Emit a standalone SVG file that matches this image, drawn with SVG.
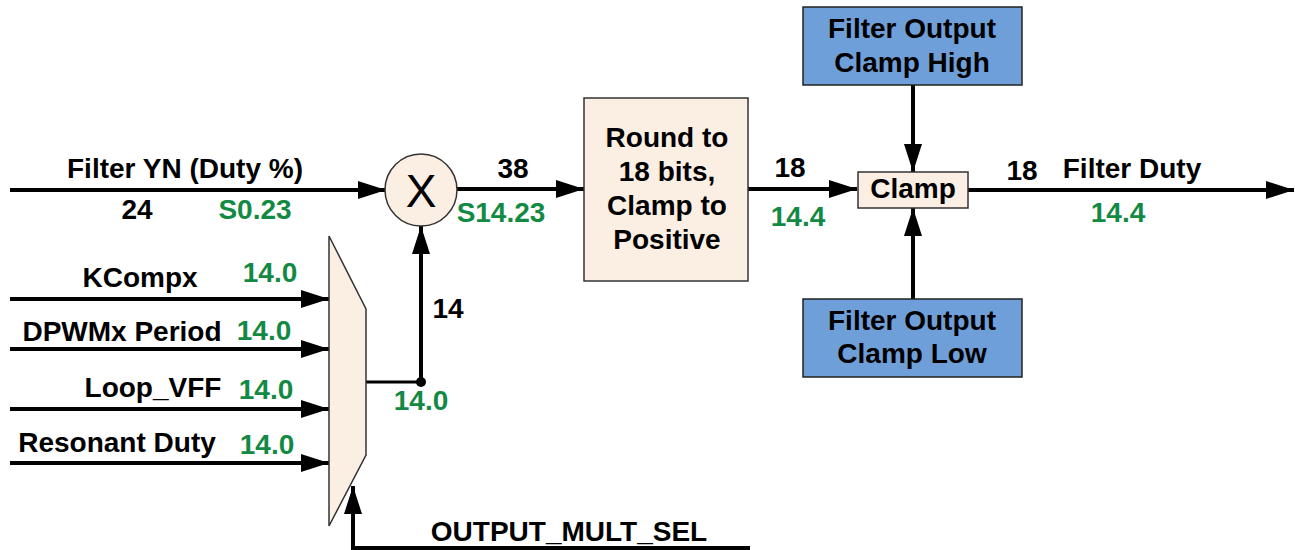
<svg xmlns="http://www.w3.org/2000/svg" width="1295" height="550" viewBox="0 0 1295 550">
<style>
text{font-family:"Liberation Sans",Arial,sans-serif;font-weight:bold;font-size:28px;fill:#000;text-anchor:middle}
text.g{fill:#138a43}
.ln{stroke:#000;stroke-width:4;fill:none}
.peach{fill:#fbeee2;stroke:#333;stroke-width:1.5}
.blue{fill:#6f9fd8;stroke:#222;stroke-width:1.5}
</style>
<defs>
<marker id="ah" markerUnits="userSpaceOnUse" markerWidth="30" markerHeight="20" refX="28" refY="9" orient="auto">
<path d="M0,0 L28,9 L0,18 Z" fill="#000"/>
</marker>
</defs>
<g id="connectors">
<line class="ln" x1="10" y1="190" x2="386" y2="190" marker-end="url(#ah)"/>
<line class="ln" x1="457" y1="189" x2="584" y2="189" marker-end="url(#ah)"/>
<line class="ln" x1="748" y1="189" x2="857" y2="189" marker-end="url(#ah)"/>
<line class="ln" x1="968" y1="190" x2="1294" y2="190" marker-end="url(#ah)"/>
<line class="ln" x1="913" y1="85" x2="913" y2="172" marker-end="url(#ah)"/>
<line class="ln" x1="913" y1="299" x2="913" y2="208" marker-end="url(#ah)"/>
<line class="ln" x1="10" y1="299" x2="329" y2="299" marker-end="url(#ah)"/>
<line class="ln" x1="10" y1="349" x2="329" y2="349" marker-end="url(#ah)"/>
<line class="ln" x1="10" y1="409" x2="329" y2="409" marker-end="url(#ah)"/>
<line class="ln" x1="10" y1="463" x2="329" y2="463" marker-end="url(#ah)"/>
<line x1="366" y1="382" x2="421" y2="382" stroke="#000" stroke-width="3"/>
<line class="ln" x1="421" y1="382" x2="421" y2="226" marker-end="url(#ah)"/>
<circle cx="421" cy="382" r="5" fill="#000"/>
<polyline class="ln" points="750,548 353,548 353,486" marker-end="url(#ah)"/>
</g>
<g id="mult">
<circle class="peach" cx="421" cy="190" r="36"/>
<text x="421" y="207" style="font-weight:normal;font-size:46px">X</text>
</g>
<g id="round">
<rect class="peach" x="584" y="98" width="164" height="183"/>
<text x="667" y="147">Round to</text>
<text x="667" y="181">18 bits,</text>
<text x="667" y="215">Clamp to</text>
<text x="667" y="249">Positive</text>
</g>
<g id="clamp">
<rect class="peach" x="858" y="172" width="110" height="36"/>
<text x="913" y="198">Clamp</text>
</g>
<g id="clampHigh">
<rect class="blue" x="803" y="7" width="219" height="78"/>
<text x="912" y="38">Filter Output</text>
<text x="912" y="72">Clamp High</text>
</g>
<g id="clampLow">
<rect class="blue" x="803" y="299" width="219" height="78"/>
<text x="912" y="330">Filter Output</text>
<text x="912" y="363">Clamp Low</text>
</g>
<g id="mux">
<polygon class="peach" points="329,236 366,309 366,455 329,526"/>
</g>
<g id="labels">
<text x="185" y="178">Filter YN (Duty %)</text>
<text x="137" y="219">24</text>
<text class="g" x="255" y="219">S0.23</text>
<text x="513" y="178">38</text>
<text class="g" x="501" y="222">S14.23</text>
<text x="790" y="177">18</text>
<text class="g" x="798" y="226">14.4</text>
<text x="1022" y="180">18</text>
<text x="1132" y="178">Filter Duty</text>
<text class="g" x="1118" y="222">14.4</text>
<text x="140" y="287">KCompx</text>
<text class="g" x="270" y="282">14.0</text>
<text x="122" y="341">DPWMx Period</text>
<text class="g" x="264" y="340">14.0</text>
<text x="153" y="397">Loop_VFF</text>
<text class="g" x="266" y="399">14.0</text>
<text x="117" y="452">Resonant Duty</text>
<text class="g" x="267" y="454">14.0</text>
<text x="448" y="318">14</text>
<text class="g" x="421" y="410">14.0</text>
<text x="569" y="541">OUTPUT_MULT_SEL</text>
</g>
</svg>
